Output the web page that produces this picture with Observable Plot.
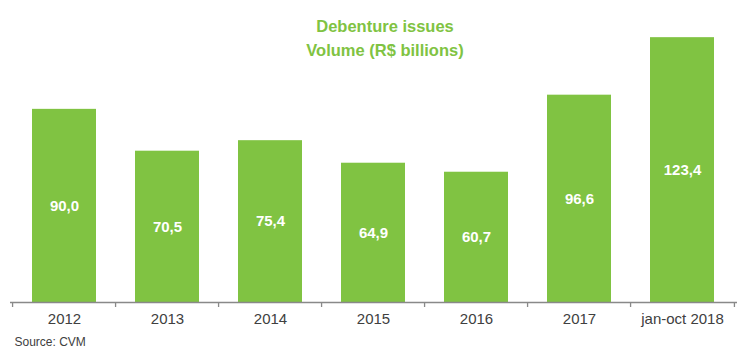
<!DOCTYPE html>
<html>
<head>
<meta charset="utf-8">
<script src="https://cdn.jsdelivr.net/npm/d3@7"></script>
<script src="https://cdn.jsdelivr.net/npm/@observablehq/plot@0.6"></script>
<style>
  html, body { margin: 0; padding: 0; background: #fff; }
  #chart { position: relative; width: 750px; height: 357px; }
</style>
</head>
<body>
<div id="chart"></div>
<script>
const categories = ["2012", "2013", "2014", "2015", "2016", "2017", "jan-oct 2018"];
const values = [90.0, 70.5, 75.4, 64.9, 60.7, 96.6, 123.4];
const valueLabels = ["90,0", "70,5", "75,4", "64,9", "60,7", "96,6", "123,4"];
const titleLine1 = "Debenture issues";
const titleLine2 = "Volume (R$ billions)";
const sourceText = "Source: CVM";

const data = categories.map((c, i) => ({cat: c, value: values[i], label: valueLabels[i]}));

const W = 750, H = 357;
const mL = 10, mR = 13, mT = 23, mB = 55;
const step = (W - mL - mR) / categories.length;
const green = "#80C342";
const font = "Liberation Sans, Arial, sans-serif";

const plot = Plot.plot({
  width: W,
  height: H,
  marginLeft: mL,
  marginRight: mR,
  marginTop: mT,
  marginBottom: mB,
  style: {fontFamily: font, background: "#fff"},
  x: {type: "band", domain: categories, paddingInner: 0.375, paddingOuter: 0.1875, align: 0.5, axis: null},
  y: {domain: [0, 130], axis: null},
  marks: [
    Plot.barY(data, {x: "cat", y: "value", fill: green}),
    Plot.text(data, {x: "cat", y: d => d.value / 2, text: "label", fill: "#fff", fontWeight: "bold", fontSize: 15}),
    Plot.ruleY([0], {stroke: "#898989", strokeWidth: 1.3}),
    Plot.ruleX(categories, {x: d => d, y1: 0, y2: 0, insetBottom: -5, dx: -step / 2, stroke: "#898989", strokeWidth: 1.3}),
    Plot.ruleX([categories[categories.length - 1]], {x: d => d, y1: 0, y2: 0, insetBottom: -5, dx: step / 2, stroke: "#898989", strokeWidth: 1.3}),
    Plot.text(categories, {x: d => d, frameAnchor: "bottom", dy: 21, text: d => d, fill: "#404040", fontSize: 15}),
    Plot.text([titleLine1], {frameAnchor: "top", text: d => d, dx: 11, dy: -3, fill: green, fontWeight: "bold", fontSize: 16.5}),
    Plot.text([titleLine2], {frameAnchor: "top", text: d => d, dx: 11, dy: 21, fill: green, fontWeight: "bold", fontSize: 16.5}),
    Plot.text([sourceText], {frameAnchor: "bottom-left", text: d => d, dx: 4, dy: 43, fill: "#404040", fontSize: 12})
  ]
});
document.getElementById("chart").appendChild(plot);
</script>
</body>
</html>
